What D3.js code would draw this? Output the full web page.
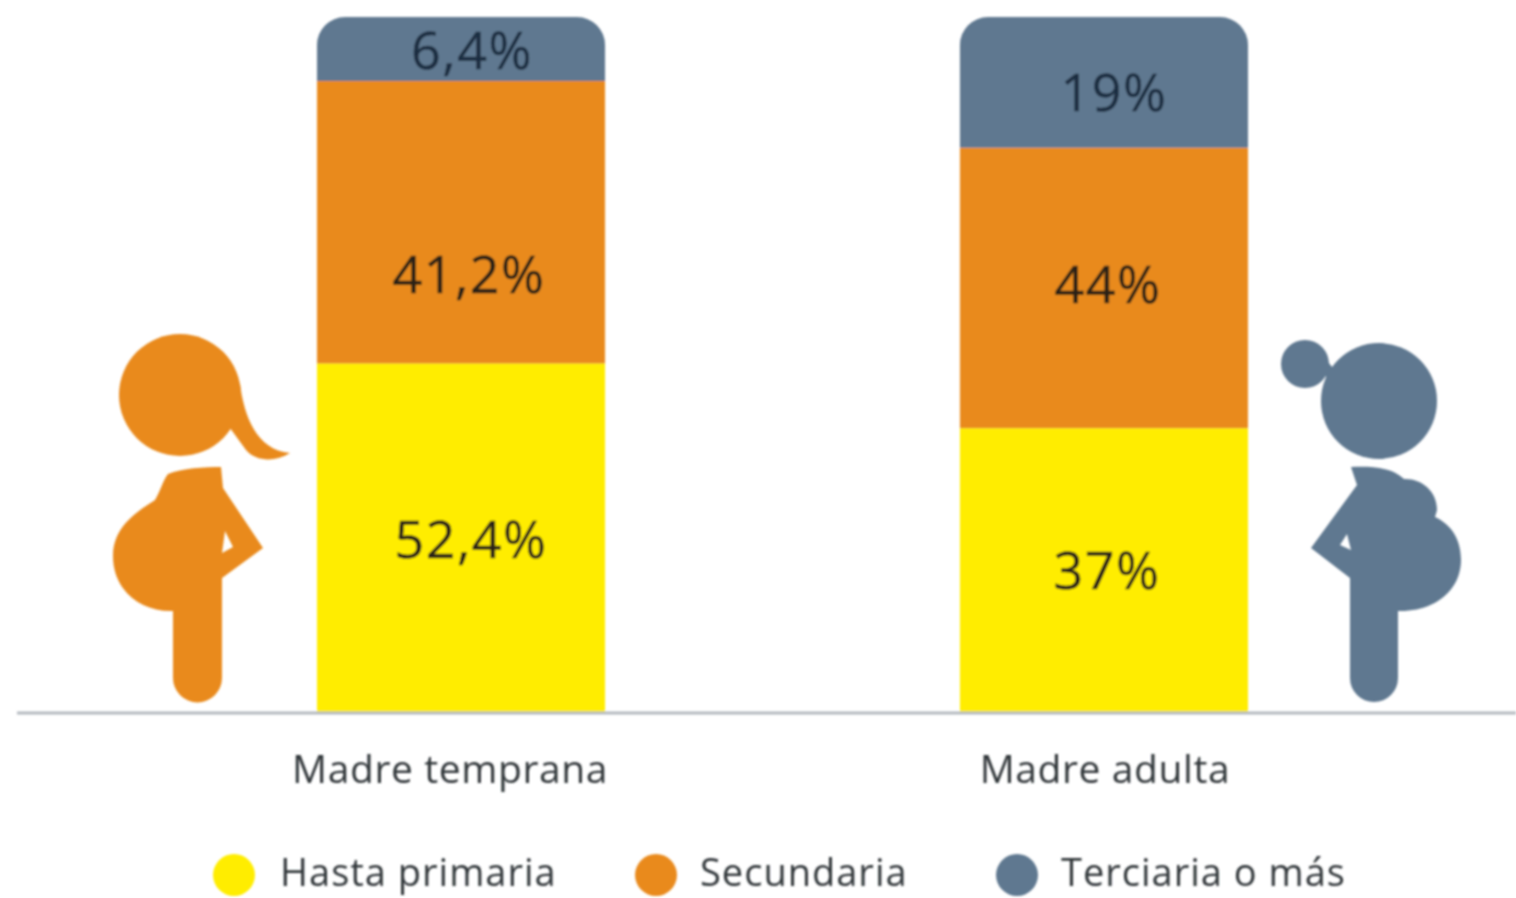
<!DOCTYPE html>
<html>
<head>
<meta charset="utf-8">
<script src="https://cdn.jsdelivr.net/npm/d3@7"></script>
<style>
  html, body { margin: 0; background: #fff; overflow: hidden; }
  text { font-family: "Open Sans", sans-serif; }
</style>
</head>
<body>
<svg></svg>
<script>
const categories = ['Madre temprana', 'Madre adulta'];
const levels = ['Hasta primaria', 'Secundaria', 'Terciaria o más'];

// segment heights as drawn in the picture (the original is not to scale with its printed labels)
const hastaPrimaria = [50.2, 40.9];
const secundaria = [40.6, 40.3];
const terciaria = [9.2, 18.8];

const labelsPrimaria = ['52,4%', '37%'];
const labelsSecundaria = ['41,2%', '44%'];
const labelsTerciaria = ['6,4%', '19%'];

const colors = ['#ffed00', '#e98a1e', '#5f7890'];

const width = 1516;
const height = 898;
const baseY = 713;
const topY = 17;
const corner = 28;

// label centres in the source sit away from the segment centres
const labelNudgeX = [[10, 3], [8, 4], [11, 10]];
const labelNudgeY = [[1, 0], [52, -3], [2, 10]];

const legendDotX = [234, 656, 1017];
const legendTextX = [280, 700, 1061];

const svg = d3.select('svg')
    .attr('width', width)
    .attr('height', height)
    .style('display', 'block');

svg.append('defs').append('filter')
    .attr('id', 'soft')
    .attr('x', '-5%').attr('y', '-5%')
    .attr('width', '110%').attr('height', '110%')
  .append('feGaussianBlur')
    .attr('stdDeviation', 0.8);

const g = svg.append('g').attr('filter', 'url(#soft)');

const x = d3.scaleBand()
    .domain(categories)
    .range([317, 1248])
    .paddingInner(0.552);

const y = d3.scaleLinear()
    .domain([0, 100])
    .range([baseY, topY]);

const rows = categories.map((c, i) => ({
  category: c,
  [levels[0]]: hastaPrimaria[i],
  [levels[1]]: secundaria[i],
  [levels[2]]: terciaria[i]
}));
const labels = [labelsPrimaria, labelsSecundaria, labelsTerciaria];

const stacked = d3.stack().keys(levels)(rows);

function segmentPath(d, isTop) {
  const x0 = x(d.data.category);
  const x1 = x0 + x.bandwidth();
  const y0 = y(d[0]);
  const y1 = y(d[1]);
  const p = d3.path();
  p.moveTo(x0, y0);
  if (isTop) {
    p.lineTo(x0, y1 + corner);
    p.arcTo(x0, y1, x0 + corner, y1, corner);
    p.lineTo(x1 - corner, y1);
    p.arcTo(x1, y1, x1, y1 + corner, corner);
  } else {
    p.lineTo(x0, y1);
    p.lineTo(x1, y1);
  }
  p.lineTo(x1, y0);
  p.closePath();
  return p.toString();
}

const layers = g.selectAll('.layer')
  .data(stacked)
  .join('g')
    .attr('class', 'layer');

layers.selectAll('path')
  .data((s, si) => s.map(d => ({ d, si })))
  .join('path')
    .attr('d', v => segmentPath(v.d, v.si === levels.length - 1))
    .attr('fill', v => colors[v.si]);

layers.selectAll('text')
  .data((s, si) => s.map((d, ci) => ({ d, si, ci })))
  .join('text')
    .attr('x', v => x(v.d.data.category) + x.bandwidth() / 2 + labelNudgeX[v.si][v.ci])
    .attr('y', v => (y(v.d[0]) + y(v.d[1])) / 2 + labelNudgeY[v.si][v.ci])
    .attr('dy', '0.35em')
    .attr('text-anchor', 'middle')
    .attr('font-size', 52)
    .attr('letter-spacing', 1.5)
    .attr('fill', v => v.si === 2 ? '#1f2f42' : '#2a2418')
    .attr('stroke', v => v.si === 2 ? '#1f2f42' : '#2a2418')
    .attr('stroke-width', 0.5)
    .text(v => labels[v.si][v.ci]);

// baseline and category labels
const axis = g.append('g')
    .attr('transform', `translate(0,${baseY})`)
    .call(d3.axisBottom(x).tickSize(0).tickPadding(42));

axis.select('.domain').remove();
axis.append('line')
    .attr('x1', 17)
    .attr('x2', width)
    .attr('stroke', '#b4bac0')
    .attr('stroke-width', 3);

axis.selectAll('.tick text')
    .attr('font-size', 39)
    .attr('font-family', '"Open Sans", sans-serif')
    .attr('letter-spacing', 0.6)
    .attr('fill', '#33373b')
    .attr('dx', (d, i) => i === 0 ? -11 : 1);

// legend
const legend = g.selectAll('.legend')
  .data(levels)
  .join('g')
    .attr('class', 'legend');

legend.append('circle')
    .attr('cx', (d, i) => legendDotX[i])
    .attr('cy', 875)
    .attr('r', 21)
    .attr('fill', (d, i) => colors[i]);

legend.append('text')
    .attr('x', (d, i) => legendTextX[i])
    .attr('y', 886)
    .attr('font-size', 38)
    .attr('letter-spacing', 1)
    .attr('fill', '#33373b')
    .text(d => d);

// pictograms
const girl = g.append('g').attr('fill', colors[1]);
girl.append('circle').attr('cx', 180).attr('cy', 395).attr('r', 61);
girl.append('path')
    .attr('d', 'M240,384 C244,415 256,450 290,453 C276,462 256,462 246,450 L230,428 Z');
girl.append('path')
    .attr('fill-rule', 'evenodd')
    .attr('d', 'M168,474 C182,468 205,467 221,467 L223,488 L263,548 L222,578 L222,678 A24.5,24.5 0 0 1 173,678 L173,611 C140,612 113,590 113,556 C113,525 140,510 155,500 C161,490 163,480 168,474 Z M225,531 L222,553 L233,547 Z');

const woman = g.append('g').attr('fill', colors[2]);
woman.append('circle').attr('cx', 1305).attr('cy', 364).attr('r', 24);
woman.append('circle').attr('cx', 1379).attr('cy', 401).attr('r', 58);
woman.append('path')
    .attr('d', 'M1325,358 L1336,372 L1326,378 Z');
woman.append('path')
    .attr('fill-rule', 'evenodd')
    .attr('d', 'M1351,467 C1370,466 1392,467 1404,479 C1420,478 1437,490 1437,510 L1435,517 C1452,525 1461,540 1461,560 C1461,590 1435,612 1398,611 L1398,678 A24,24 0 0 1 1350,678 L1350,578 L1311,548 L1357,485 Z M1347,534 L1340,545 L1351,550 Z');
</script>
</body>
</html>
